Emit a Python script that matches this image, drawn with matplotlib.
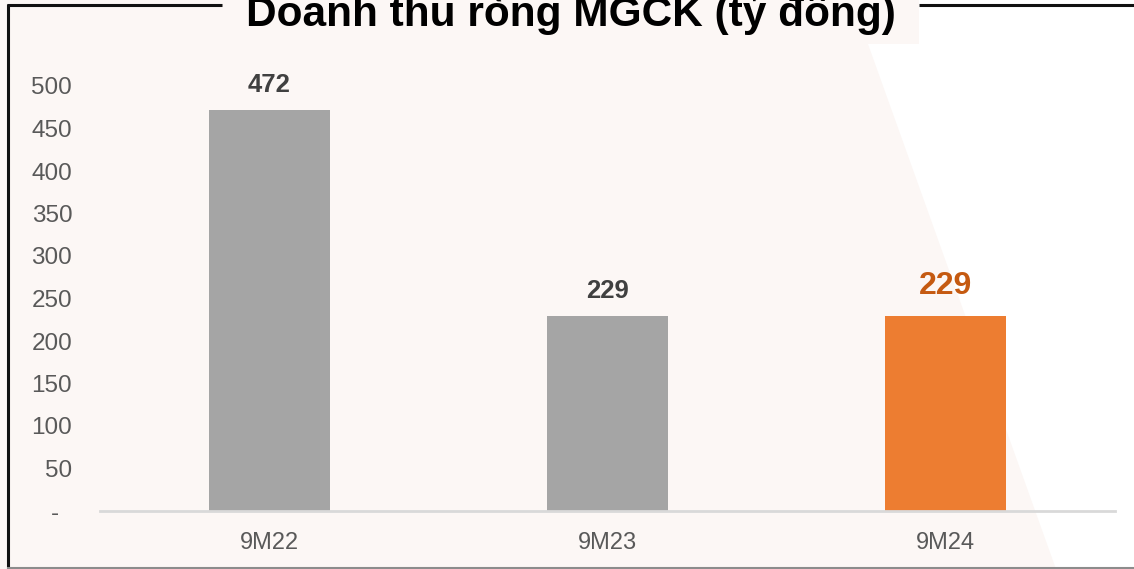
import matplotlib
matplotlib.use("Agg")
import matplotlib.pyplot as plt
from matplotlib.patches import Polygon, Rectangle

plt.rcParams['font.family'] = ['Liberation Sans', 'DejaVu Sans']

categories = ["9M22", "9M23", "9M24"]
values = [472, 229, 229]
bar_colors = ["#A5A5A5", "#A5A5A5", "#ED7D31"]
label_colors = ["#404040", "#404040", "#C55A11"]
label_sizes = [18.5, 18.5, 23]
yticks = [0, 50, 100, 150, 200, 250, 300, 350, 400, 450, 500]
ytick_labels = ["-  "] + [str(v) for v in yticks[1:]]
title = "Doanh thu ròng MGCK (tỷ đồng)"

W, H = 1134, 569
fig = plt.figure(figsize=(W / 100, H / 100), dpi=100)
fig.patch.set_facecolor("white")

# background decoration axes in pixel coordinates
bg = fig.add_axes([0, 0, 1, 1], zorder=0)
bg.set_xlim(0, W)
bg.set_ylim(H, 0)
bg.axis("off")
pink = "#FCF7F5"
bg.add_patch(Polygon([(0, 44), (868, 44), (1056, H), (0, H)], closed=True,
                     facecolor=pink, edgecolor="none"))
bg.add_patch(Rectangle((0, 0), 919, 44, facecolor=pink, edgecolor="none"))
bg.plot([7, 222], [5, 5], color="#111111", lw=2.2, solid_capstyle="butt")
bg.plot([919, W], [5, 5], color="#111111", lw=2.2, solid_capstyle="butt")
bg.plot([7.5, 7.5], [4, H], color="#111111", lw=2.2, solid_capstyle="butt")
bg.plot([7, W], [567.5, 567.5], color="#8C8C8C", lw=1.5, solid_capstyle="butt")
bg.text(571, 26, title, ha="center", va="baseline", fontsize=30.5,
        fontweight="bold", color="#000000")

# main chart axes
x0, x1 = 100, 1115
y_zero = 511
px_per_unit = 0.85
ymax = 540
top_px = y_zero - ymax * px_per_unit
ax = fig.add_axes([x0 / W, (H - y_zero) / H, (x1 - x0) / W, (y_zero - top_px) / H], zorder=1)
ax.patch.set_alpha(0)

xpos = list(range(len(categories)))
ax.bar(xpos, values, width=0.358, color=bar_colors, zorder=2)
ax.set_xlim(-0.5, len(categories) - 0.5)
ax.set_ylim(0, ymax)

for x, v, c, s in zip(xpos, values, label_colors, label_sizes):
    ax.annotate(str(v), (x, v), xytext=(0, 13 if s < 20 else 15), textcoords="offset pixels",
                ha="center", va="bottom", fontsize=s, fontweight="bold", color=c)

for side in ["top", "right", "left"]:
    ax.spines[side].set_visible(False)
ax.spines["bottom"].set_color("#D9D9D9")
ax.spines["bottom"].set_linewidth(2)

ax.set_yticks(yticks)
ax.set_yticklabels(ytick_labels)
ax.set_xticks(xpos)
ax.set_xticklabels(categories)
ax.tick_params(axis="y", length=0, pad=20, labelsize=17.5, labelcolor="#595959")
ax.tick_params(axis="x", length=0, pad=15, labelsize=17, labelcolor="#595959")

fig.savefig("out.png", dpi=100, facecolor=fig.get_facecolor())
